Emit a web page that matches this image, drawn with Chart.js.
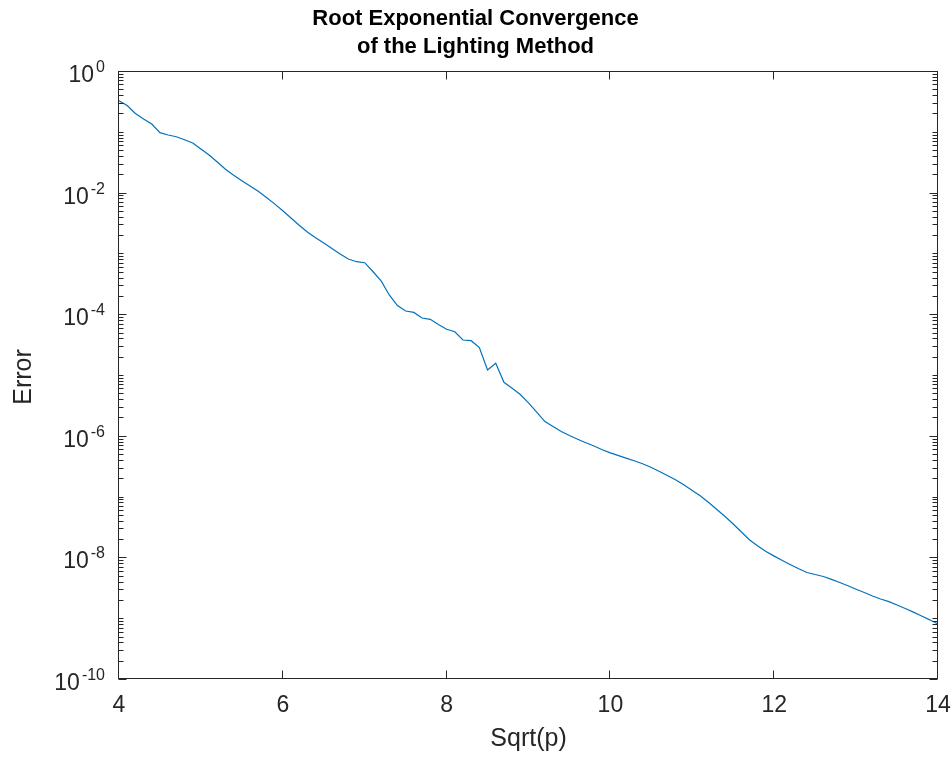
<!DOCTYPE html>
<html>
<head>
<meta charset="utf-8">
<script src="https://cdn.jsdelivr.net/npm/chart.js@4.4.1/dist/chart.umd.min.js"></script>
<style>
  html, body { margin: 0; padding: 0; background: #fff; }
  #wrap { width: 951px; height: 758px; }
</style>
</head>
<body>
<div id="wrap"><canvas id="errChart" width="951" height="758"></canvas></div>
<script>
// sqrt(p) sample points and the error measured at each one
const sqrtP = [
  4.0, 4.1, 4.2, 4.3, 4.4, 4.5, 4.6, 4.7, 4.8, 4.9,
  5.0, 5.1, 5.2, 5.3, 5.4, 5.5, 5.6, 5.7, 5.8, 5.9,
  6.0, 6.1, 6.2, 6.3, 6.4, 6.5, 6.6, 6.7, 6.8, 6.9,
  7.0, 7.1, 7.2, 7.3, 7.4, 7.5, 7.6, 7.7, 7.8, 7.9,
  8.0, 8.1, 8.2, 8.3, 8.4, 8.5, 8.6, 8.7, 8.8, 8.9,
  9.0, 9.1, 9.2, 9.3, 9.4, 9.5, 9.6, 9.7, 9.8, 9.9,
  10.0, 10.1, 10.2, 10.3, 10.4, 10.5, 10.6, 10.7, 10.8, 10.9,
  11.0, 11.1, 11.2, 11.3, 11.4, 11.5, 11.6, 11.7, 11.8, 11.9,
  12.0, 12.1, 12.2, 12.3, 12.4, 12.5, 12.6, 12.7, 12.8, 12.9,
  13.0, 13.1, 13.2, 13.3, 13.4, 13.5, 13.6, 13.7, 13.8, 13.9,
  14.0
];
const errors = [
  0.324, 0.271, 0.200, 0.162, 0.134, 0.0967, 0.0886, 0.0830, 0.0739, 0.0655,
  0.0521, 0.0415, 0.0318, 0.0242, 0.0193, 0.0157, 0.0128, 0.0105, 0.00828, 0.00652,
  0.00504, 0.00382, 0.00291, 0.00225, 0.00181, 0.00148, 0.00120, 0.000982, 0.000809, 0.000730,
  0.000703, 0.000504, 0.000352, 0.000207, 0.000139, 0.000113, 0.000107, 8.67e-5, 8.24e-5, 6.77e-5,
  5.65e-5, 5.15e-5, 3.76e-5, 3.67e-5, 2.83e-5, 1.21e-5, 1.56e-5, 7.58e-6, 6.04e-6, 4.77e-6,
  3.47e-6, 2.46e-6, 1.71e-6, 1.42e-6, 1.18e-6, 1.01e-6, 8.79e-7, 7.70e-7, 6.78e-7, 5.90e-7,
  5.25e-7, 4.72e-7, 4.26e-7, 3.85e-7, 3.44e-7, 3.01e-7, 2.59e-7, 2.20e-7, 1.88e-7, 1.55e-7,
  1.26e-7, 1.02e-7, 8.0e-8, 6.14e-8, 4.71e-8, 3.54e-8, 2.62e-8, 1.93e-8, 1.54e-8, 1.25e-8,
  1.05e-8, 8.89e-9, 7.59e-9, 6.52e-9, 5.65e-9, 5.24e-9, 4.85e-9, 4.35e-9, 3.86e-9, 3.42e-9,
  3.0e-9, 2.64e-9, 2.32e-9, 2.07e-9, 1.87e-9, 1.65e-9, 1.44e-9, 1.26e-9, 1.09e-9, 9.4e-10,
  8.0e-10
];

const xTicks = [4, 6, 8, 10, 12, 14];
const yDecades = [0, -1, -2, -3, -4, -5, -6, -7, -8, -9, -10];
const yLabelled = [0, -2, -4, -6, -8, -10];
const titleLines = ["Root Exponential Convergence", "of the Lighting Method"];
const xTitle = "Sqrt(p)";
const yTitle = "Error";

const FONT = '"Liberation Sans", Arial, Helvetica, sans-serif';
const INK = '#262626';

// box, inward ticks, power-of-ten labels and titles
const matlabAxes = {
  id: 'matlabAxes',
  afterDraw(chart) {
    const { ctx, chartArea: a, scales: { x, y } } = chart;
    const L = a.left - 0.5, R = a.right - 0.5, T = a.top + 0.5, B = a.bottom - 0.5;
    ctx.save();
    ctx.strokeStyle = INK;
    ctx.lineWidth = 1;
    ctx.strokeRect(L, T, R - L, B - T);

    ctx.beginPath();
    xTicks.forEach(v => {
      const px = Math.round(x.getPixelForValue(v)) - 0.5;
      ctx.moveTo(px, B); ctx.lineTo(px, B - 8);
      ctx.moveTo(px, T); ctx.lineTo(px, T + 8);
    });
    yDecades.forEach(d => {
      const len = yLabelled.includes(d) ? 8 : 5;
      const py = Math.round(y.getPixelForValue(Math.pow(10, d))) + 0.5;
      ctx.moveTo(L, py); ctx.lineTo(L + len, py);
      ctx.moveTo(R, py); ctx.lineTo(R - len, py);
      if (d > -10) {
        for (let k = 2; k <= 9; k++) {
          const pm = Math.round(y.getPixelForValue(k * Math.pow(10, d - 1))) + 0.5;
          ctx.moveTo(L, pm); ctx.lineTo(L + 5, pm);
          ctx.moveTo(R, pm); ctx.lineTo(R - 5, pm);
        }
      }
    });
    ctx.stroke();

    ctx.fillStyle = INK;
    ctx.font = '23px ' + FONT;
    ctx.textAlign = 'center';
    ctx.textBaseline = 'alphabetic';
    xTicks.forEach(v => {
      ctx.fillText(String(v), x.getPixelForValue(v), a.bottom + 33);
    });

    const rightEdge = a.left - 14;
    yLabelled.forEach(d => {
      const py = y.getPixelForValue(Math.pow(10, d));
      const exp = String(d);
      ctx.font = '16px ' + FONT;
      const wExp = ctx.measureText(exp).width;
      ctx.textAlign = 'left';
      ctx.fillText(exp, rightEdge - wExp, py + 1);
      ctx.font = '23px ' + FONT;
      ctx.textAlign = 'right';
      ctx.fillText('10', rightEdge - wExp - 2, py + 11);
    });

    const midX = (a.left + a.right) / 2;
    ctx.textAlign = 'center';
    ctx.font = '25px ' + FONT;
    ctx.fillText(xTitle, midX, 746);

    ctx.save();
    ctx.translate(31, (a.top + a.bottom) / 2 + 2);
    ctx.rotate(-Math.PI / 2);
    ctx.fillText(yTitle, 0, 0);
    ctx.restore();

    // the title sits over the middle of the whole figure
    ctx.fillStyle = '#000';
    ctx.font = 'bold 22px ' + FONT;
    const figMid = chart.width / 2;
    ctx.fillText(titleLines[0], figMid, 25);
    ctx.fillText(titleLines[1], figMid, 53);
    ctx.restore();
  }
};

const ctx = document.getElementById('errChart').getContext('2d');
new Chart(ctx, {
  type: 'line',
  data: {
    datasets: [{
      data: sqrtP.map((v, i) => ({ x: v, y: errors[i] })),
      borderColor: '#0072BD',
      borderWidth: 1.2,
      pointRadius: 0,
      tension: 0,
      fill: false
    }]
  },
  options: {
    responsive: false,
    animation: false,
    devicePixelRatio: 1,
    layout: { padding: { left: 0, right: 13, top: 71, bottom: 0 } },
    plugins: {
      legend: { display: false },
      tooltip: { enabled: false },
      title: { display: false }
    },
    scales: {
      x: {
        type: 'linear', min: 4, max: 14,
        grid: { display: false }, border: { display: false },
        ticks: { display: false },
        afterFit: s => { s.height = 79; }
      },
      y: {
        type: 'logarithmic', min: 1e-10, max: 1,
        grid: { display: false }, border: { display: false },
        ticks: { display: false },
        afterFit: s => { s.width = 119; }
      }
    }
  },
  plugins: [matlabAxes]
});
</script>
</body>
</html>
